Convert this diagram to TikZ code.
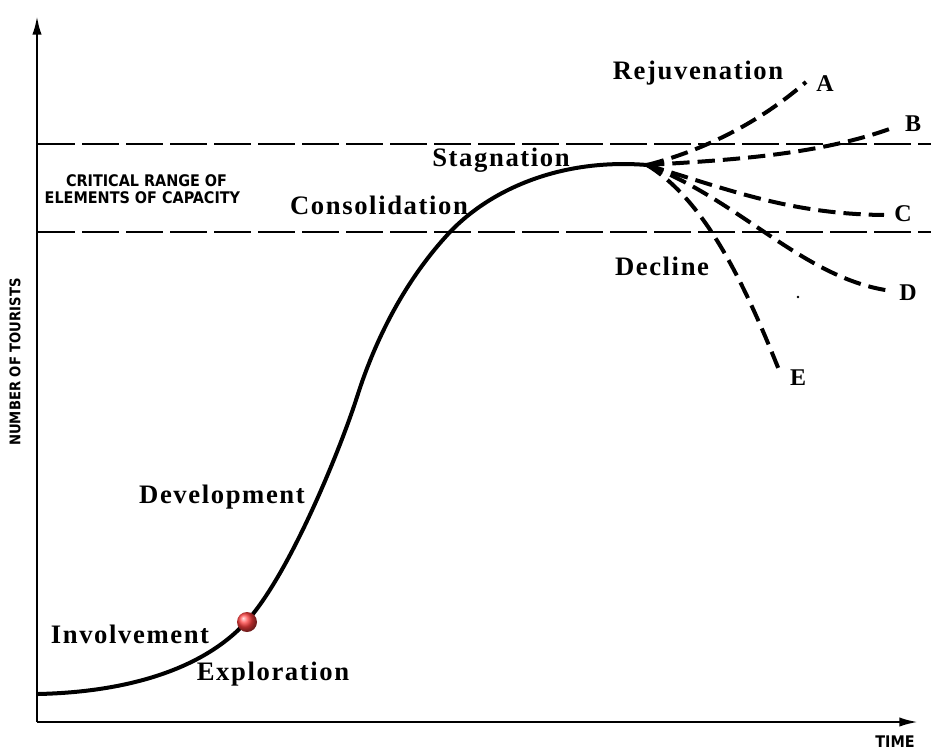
\documentclass[tikz,border=0pt]{standalone}
\usepackage{fontspec}
\setmainfont{Liberation Serif}
\newfontfamily\capsfont{DejaVu Sans Condensed}
\usetikzlibrary{arrows.meta,shadings}
\tikzset{
  axis/.style={line width=1.8pt,-{Latex[length=14pt,width=7pt]}},
  capline/.style={line width=1.4pt,dash pattern=on 28pt off 5pt},
  lifecurve/.style={line width=3pt,line cap=round},
  branch/.style={line width=3pt,dash pattern=on 13pt off 6pt},
  stage/.style={font=\fontsize{20}{22}\selectfont\bfseries\addfontfeature{LetterSpace=6}},
  letter/.style={font=\fontsize{18}{20}\selectfont\bfseries},
  caps/.style={font=\capsfont\bfseries\fontsize{12}{12.8}\selectfont,align=left},
}
\begin{document}
\begin{tikzpicture}[x=0.75pt,y=-0.75pt]
\useasboundingbox (0,0) rectangle (931,753);
\fill[white] (0,0) rectangle (931,753);
% axes
\coordinate (O) at (37,722);
\coordinate (ytop) at (37,16);
\coordinate (xend) at (918,722);
\draw[axis] (O) -- (ytop);
\draw[axis] (O) -- (xend);
% capacity range
\coordinate (c1l) at (38,144); \coordinate (c1r) at (931,144);
\coordinate (c2l) at (38,232); \coordinate (c2r) at (931,232);
\draw[capline] (c1l) -- (c1r);
\draw[capline] (c2l) -- (c2r);
% main curve
\coordinate (P0) at (38,694);
\coordinate (P1) at (247,621);
\coordinate (P2) at (357,397);
\coordinate (P3) at (450,232);
\coordinate (S) at (647,165);
\draw[lifecurve] (P0) .. controls (130,692) and (205,668) .. (P1)
  .. controls (290,573) and (340,450) .. (P2)
  .. controls (375,340) and (405,280) .. (P3)
  .. controls (490,190) and (560,158) .. (S);
% branches
\coordinate (A) at (806,82);
\coordinate (B) at (895,127);
\coordinate (C) at (884,215);
\coordinate (D) at (892,291);
\coordinate (E) at (779,370);
\draw[branch] (S) .. controls (705,150) and (760,122) .. (A);
\draw[branch] (S) .. controls (730,160) and (820,155) .. (B);
\draw[branch] (S) .. controls (730,190) and (790,214) .. (C);
\draw[branch] (S) .. controls (740,200) and (805,280) .. (D);
\draw[branch] (S) .. controls (705,200) and (745,285) .. (E);
% labels
\node[letter] (lA) at (825,84) {A};
\node[letter] (lB) at (913,124) {B};
\node[letter] (lC) at (903,214) {C};
\node[letter] (lD) at (908,293) {D};
\node[letter] (lE) at (798,378) {E};
\node[stage] (rej) at (698,73) {Rejuvenation};
\node[stage] (stag) at (501,160) {Stagnation};
\node[stage] (cons) at (379,205) {Consolidation};
\node[stage] (decl) at (662,266) {Decline};
\node[stage] (dev) at (222,497) {Development};
\node[stage] (inv) at (130,634) {Involvement};
\node[stage] (expl) at (273,674) {Exploration};
\node[caps,anchor=west] (crit) at (40,189) {\hspace*{16pt}CRITICAL RANGE OF\\ELEMENTS OF CAPACITY};
\node[caps,rotate=90,font=\capsfont\bfseries\fontsize{11}{12}\selectfont] (ntour) at (15,362) {NUMBER OF TOURISTS};
\node[caps] (time) at (895,742) {TIME};
% stray dot
\fill (798,297) circle (1.3);
% red marker
\shade[ball color=red!75] (247,622) circle (10);
\end{tikzpicture}
\end{document}
